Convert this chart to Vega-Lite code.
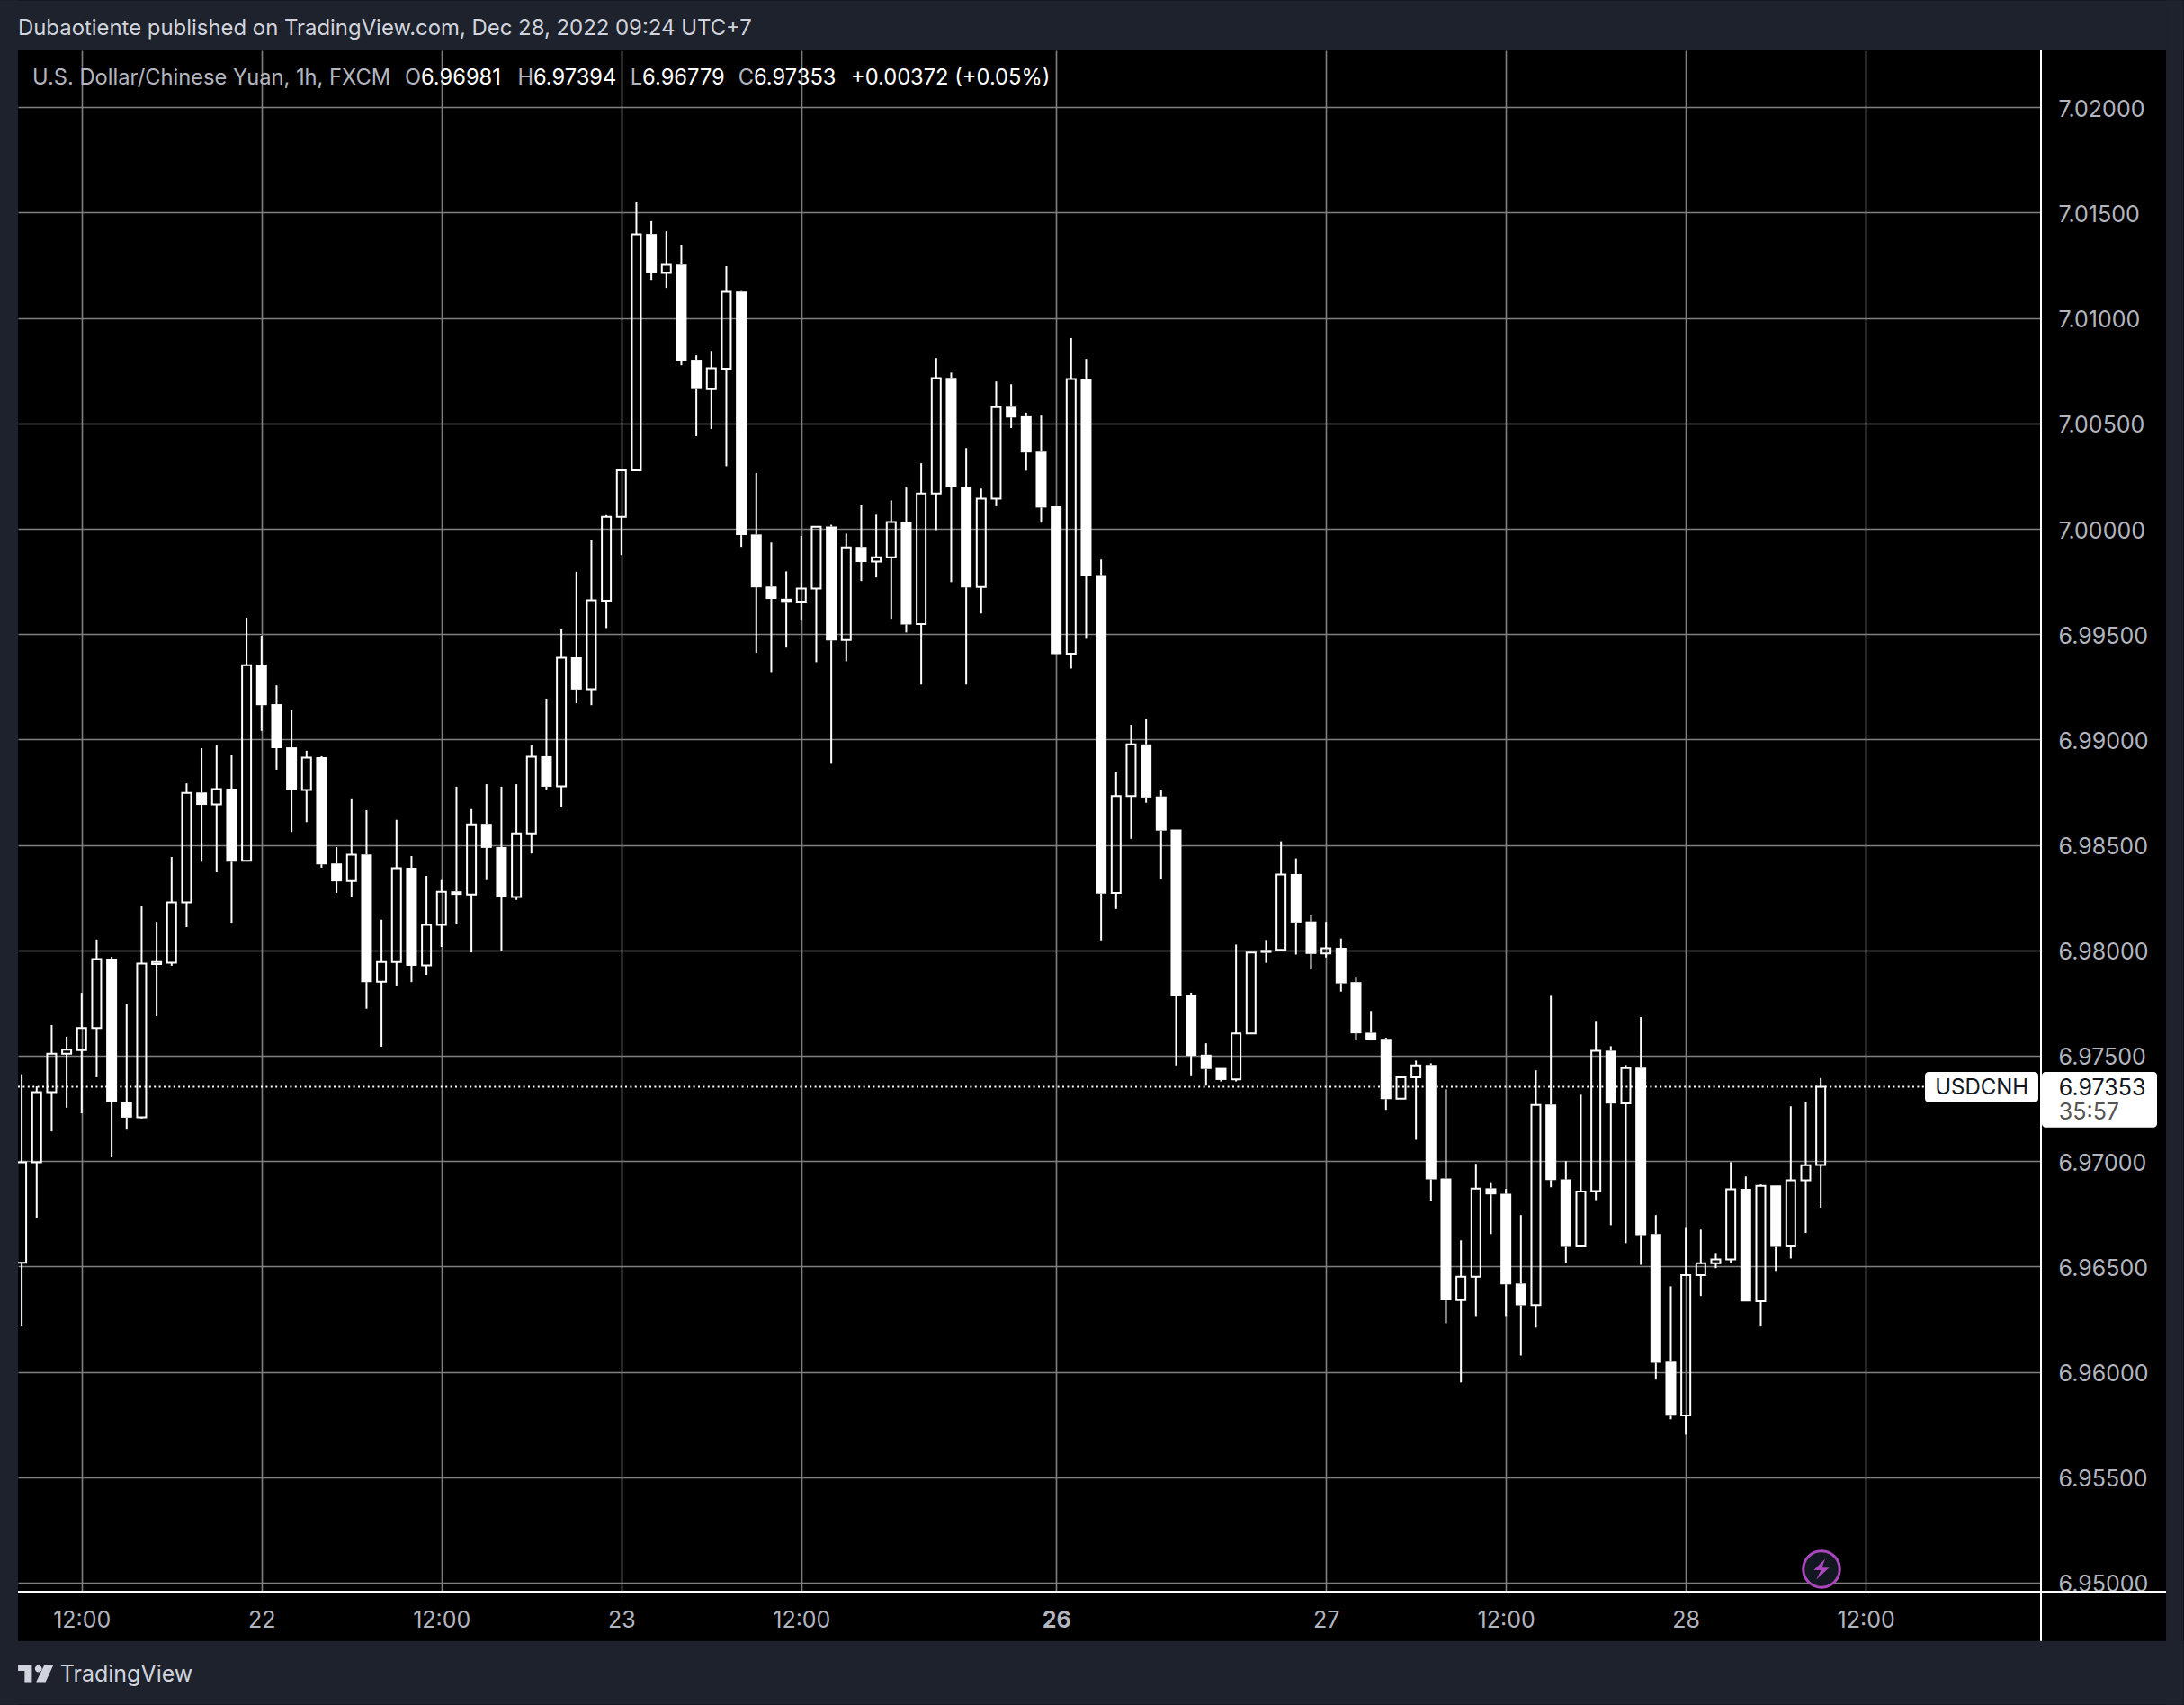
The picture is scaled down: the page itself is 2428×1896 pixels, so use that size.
{"$schema":"https://vega.github.io/schema/vega-lite/v6.json","width":2249,"height":1714,"autosize":{"type":"none"},"padding":{"left":20,"top":56,"right":159,"bottom":126},"background":"#000000","config":{"view":{"stroke":null},"font":"Inter"},
"title":{"text":"Dubaotiente published on TradingView.com, Dec 28, 2022 09:24 UTC+7","anchor":"start","frame":"group","color":"#d1d4dc","font":"Inter","fontSize":23.9,"fontWeight":"normal","baseline":"middle","offset":-56},
"datasets":{
"candles":[
{"bar":0,"open":6.96517,"high":6.97412,"low":6.9622,"close":6.96994},
{"bar":1,"open":6.96994,"high":6.97355,"low":6.96728,"close":6.97327},
{"bar":2,"open":6.97327,"high":6.97645,"low":6.97141,"close":6.9751},
{"bar":3,"open":6.9751,"high":6.9759,"low":6.97253,"close":6.97529},
{"bar":4,"open":6.97527,"high":6.97798,"low":6.97227,"close":6.97631},
{"bar":5,"open":6.97631,"high":6.98051,"low":6.97398,"close":6.97959},
{"bar":6,"open":6.97961,"high":6.97969,"low":6.97018,"close":6.97278},
{"bar":7,"open":6.97282,"high":6.97747,"low":6.97149,"close":6.97206},
{"bar":8,"open":6.97208,"high":6.98208,"low":6.97202,"close":6.97937},
{"bar":9,"open":6.97935,"high":6.98135,"low":6.97688,"close":6.97945},
{"bar":10,"open":6.97941,"high":6.98443,"low":6.97927,"close":6.98227},
{"bar":11,"open":6.98227,"high":6.98792,"low":6.9811,"close":6.98747},
{"bar":12,"open":6.98749,"high":6.98959,"low":6.9842,"close":6.9869},
{"bar":13,"open":6.98692,"high":6.98972,"low":6.9837,"close":6.98765},
{"bar":14,"open":6.98767,"high":6.98925,"low":6.98131,"close":6.9842},
{"bar":15,"open":6.98425,"high":6.99578,"low":6.98425,"close":6.99353},
{"bar":16,"open":6.99355,"high":6.99492,"low":6.99041,"close":6.99163},
{"bar":17,"open":6.99168,"high":6.99257,"low":6.98857,"close":6.98959},
{"bar":18,"open":6.98963,"high":6.99139,"low":6.98561,"close":6.98759},
{"bar":19,"open":6.98761,"high":6.98947,"low":6.98608,"close":6.98914},
{"bar":20,"open":6.98916,"high":6.98921,"low":6.98392,"close":6.98408},
{"bar":21,"open":6.98412,"high":6.9849,"low":6.98272,"close":6.98327},
{"bar":22,"open":6.98329,"high":6.98721,"low":6.98255,"close":6.98453},
{"bar":23,"open":6.98455,"high":6.98665,"low":6.97723,"close":6.97849},
{"bar":24,"open":6.97851,"high":6.98145,"low":6.97543,"close":6.97945},
{"bar":25,"open":6.97945,"high":6.98619,"low":6.97833,"close":6.9839},
{"bar":26,"open":6.98392,"high":6.98447,"low":6.97849,"close":6.97927},
{"bar":27,"open":6.97929,"high":6.98353,"low":6.97884,"close":6.98121},
{"bar":28,"open":6.98121,"high":6.98333,"low":6.98016,"close":6.98278},
{"bar":29,"open":6.9828,"high":6.98776,"low":6.98127,"close":6.98263},
{"bar":30,"open":6.98265,"high":6.9867,"low":6.9799,"close":6.98598},
{"bar":31,"open":6.986,"high":6.98788,"low":6.98333,"close":6.98486},
{"bar":32,"open":6.9849,"high":6.98776,"low":6.97998,"close":6.98251},
{"bar":33,"open":6.98253,"high":6.98788,"low":6.98239,"close":6.98555},
{"bar":34,"open":6.98555,"high":6.98972,"low":6.98459,"close":6.98919},
{"bar":35,"open":6.98921,"high":6.99194,"low":6.98763,"close":6.98776},
{"bar":36,"open":6.98778,"high":6.99523,"low":6.98682,"close":6.99388},
{"bar":37,"open":6.9939,"high":6.99796,"low":6.99172,"close":6.99237},
{"bar":38,"open":6.99239,"high":6.99945,"low":6.99163,"close":6.99661},
{"bar":39,"open":6.99659,"high":7.00065,"low":6.99529,"close":7.00057},
{"bar":40,"open":7.00057,"high":7.00284,"low":6.99876,"close":7.00278},
{"bar":41,"open":7.00278,"high":7.01549,"low":7.00278,"close":7.01397},
{"bar":42,"open":7.01399,"high":7.0146,"low":7.01181,"close":7.01212},
{"bar":43,"open":7.01214,"high":7.01412,"low":7.01143,"close":7.01252},
{"bar":44,"open":7.01254,"high":7.01347,"low":7.00776,"close":7.00798},
{"bar":45,"open":7.00802,"high":7.00823,"low":7.0044,"close":7.00663},
{"bar":46,"open":7.00663,"high":7.00844,"low":7.00474,"close":7.00762},
{"bar":47,"open":7.0076,"high":7.01246,"low":7.00297,"close":7.01124},
{"bar":48,"open":7.01126,"high":7.01128,"low":6.99914,"close":6.9997},
{"bar":49,"open":6.99973,"high":7.00265,"low":6.99411,"close":6.99722},
{"bar":50,"open":6.99726,"high":6.99935,"low":6.9932,"close":6.99667},
{"bar":51,"open":6.99668,"high":6.99798,"low":6.99436,"close":6.99653},
{"bar":52,"open":6.99655,"high":6.99966,"low":6.99564,"close":6.99716},
{"bar":53,"open":6.99716,"high":7.0001,"low":6.99367,"close":7.0001},
{"bar":54,"open":7.00011,"high":7.00019,"low":6.98885,"close":6.9947},
{"bar":55,"open":6.99472,"high":6.99977,"low":6.99371,"close":6.99912},
{"bar":56,"open":6.99914,"high":7.00111,"low":6.99752,"close":6.99842},
{"bar":57,"open":6.99844,"high":7.00067,"low":6.99769,"close":6.99865},
{"bar":58,"open":6.99865,"high":7.00135,"low":6.99573,"close":7.00032},
{"bar":59,"open":7.00034,"high":7.00196,"low":6.99508,"close":6.99546},
{"bar":60,"open":6.99548,"high":7.00311,"low":6.99261,"close":7.00168},
{"bar":61,"open":7.00168,"high":7.0081,"low":6.99994,"close":7.00715},
{"bar":62,"open":7.00716,"high":7.00741,"low":6.99747,"close":7.00196},
{"bar":63,"open":7.002,"high":7.00383,"low":6.99261,"close":6.99722},
{"bar":64,"open":6.99724,"high":7.00191,"low":6.99598,"close":7.00143},
{"bar":65,"open":7.00143,"high":7.00699,"low":7.00107,"close":7.00577},
{"bar":66,"open":7.00579,"high":7.00686,"low":7.00478,"close":7.00528},
{"bar":67,"open":7.00534,"high":7.00551,"low":7.00276,"close":7.00362},
{"bar":68,"open":7.00366,"high":7.00537,"low":7.00029,"close":7.00101},
{"bar":69,"open":7.00107,"high":7.00107,"low":6.99405,"close":6.99405},
{"bar":70,"open":6.99407,"high":7.00905,"low":6.99337,"close":7.00711},
{"bar":71,"open":7.00713,"high":7.00806,"low":6.99478,"close":6.99777},
{"bar":72,"open":6.9978,"high":6.99854,"low":6.98047,"close":6.98269},
{"bar":73,"open":6.98272,"high":6.98845,"low":6.98196,"close":6.98732},
{"bar":74,"open":6.98732,"high":6.9907,"low":6.98529,"close":6.98977},
{"bar":75,"open":6.98977,"high":6.99097,"low":6.987,"close":6.98725},
{"bar":76,"open":6.9873,"high":6.98759,"low":6.98338,"close":6.98568},
{"bar":77,"open":6.98573,"high":6.98573,"low":6.97454,"close":6.97782},
{"bar":78,"open":6.97787,"high":6.97799,"low":6.97407,"close":6.975},
{"bar":79,"open":6.97505,"high":6.97559,"low":6.97358,"close":6.97437},
{"bar":80,"open":6.97442,"high":6.97442,"low":6.97378,"close":6.97385},
{"bar":81,"open":6.97388,"high":6.98027,"low":6.97378,"close":6.97606},
{"bar":82,"open":6.97606,"high":6.9799,"low":6.97606,"close":6.9799},
{"bar":83,"open":6.98002,"high":6.98049,"low":6.97941,"close":6.97988},
{"bar":84,"open":6.98002,"high":6.98517,"low":6.98002,"close":6.9836},
{"bar":85,"open":6.98362,"high":6.98436,"low":6.9798,"close":6.98132},
{"bar":86,"open":6.98137,"high":6.98167,"low":6.97914,"close":6.97983},
{"bar":87,"open":6.97985,"high":6.98135,"low":6.97966,"close":6.9801},
{"bar":88,"open":6.98012,"high":6.98056,"low":6.97804,"close":6.97843},
{"bar":89,"open":6.97849,"high":6.9787,"low":6.97572,"close":6.97606},
{"bar":90,"open":6.97609,"high":6.97712,"low":6.97572,"close":6.97575},
{"bar":91,"open":6.9758,"high":6.97585,"low":6.97243,"close":6.97294},
{"bar":92,"open":6.97296,"high":6.97398,"low":6.97296,"close":6.97398},
{"bar":93,"open":6.97398,"high":6.97477,"low":6.97101,"close":6.97454},
{"bar":94,"open":6.97456,"high":6.97464,"low":6.96812,"close":6.96913},
{"bar":95,"open":6.96918,"high":6.97341,"low":6.96231,"close":6.96339},
{"bar":96,"open":6.9634,"high":6.96624,"low":6.9595,"close":6.96451},
{"bar":97,"open":6.96451,"high":6.96987,"low":6.96265,"close":6.96869},
{"bar":98,"open":6.96871,"high":6.969,"low":6.96654,"close":6.96842},
{"bar":99,"open":6.96845,"high":6.96868,"low":6.96265,"close":6.96415},
{"bar":100,"open":6.96419,"high":6.96744,"low":6.96077,"close":6.96316},
{"bar":101,"open":6.96317,"high":6.97431,"low":6.9621,"close":6.97266},
{"bar":102,"open":6.97268,"high":6.97784,"low":6.96876,"close":6.9691},
{"bar":103,"open":6.96913,"high":6.97,"low":6.96517,"close":6.96593},
{"bar":104,"open":6.96595,"high":6.97315,"low":6.96595,"close":6.96856},
{"bar":105,"open":6.96858,"high":6.97665,"low":6.96815,"close":6.97523},
{"bar":106,"open":6.97524,"high":6.97545,"low":6.96696,"close":6.97273},
{"bar":107,"open":6.97274,"high":6.97456,"low":6.96611,"close":6.97441},
{"bar":108,"open":6.97443,"high":6.97683,"low":6.96508,"close":6.96649},
{"bar":109,"open":6.96654,"high":6.96744,"low":6.95963,"close":6.96043},
{"bar":110,"open":6.96048,"high":6.96406,"low":6.95775,"close":6.95792},
{"bar":111,"open":6.95793,"high":6.96683,"low":6.95702,"close":6.96459},
{"bar":112,"open":6.96459,"high":6.96675,"low":6.9636,"close":6.96515},
{"bar":113,"open":6.96515,"high":6.96564,"low":6.96492,"close":6.96533},
{"bar":114,"open":6.96533,"high":6.96995,"low":6.96517,"close":6.96866},
{"bar":115,"open":6.96868,"high":6.96927,"low":6.96334,"close":6.96334},
{"bar":116,"open":6.96335,"high":6.96889,"low":6.96215,"close":6.96882},
{"bar":117,"open":6.96884,"high":6.96884,"low":6.96479,"close":6.96593},
{"bar":118,"open":6.96595,"high":6.9726,"low":6.96538,"close":6.96909},
{"bar":119,"open":6.96909,"high":6.97281,"low":6.96659,"close":6.9698},
{"bar":120,"open":6.96981,"high":6.97394,"low":6.96779,"close":6.97353}
],
"chrome":[
{"b1":-1.446,"b2":144.2,"p1":7.0227,"p2":7.02508},
{"b1":-1.446,"b2":-0.246,"p1":6.9442,"p2":7.02508},
{"b1":143.03,"b2":144.2,"p1":6.9442,"p2":7.02508},
{"b1":-1.446,"b2":144.2,"p1":6.9442,"p2":6.94723}
],
"boxes":[
{"b1":126.95,"b2":134.51,"p1":6.97279,"p2":6.97423},
{"b1":134.75,"b2":142.43,"p1":6.9716,"p2":6.97423}
],
"last":[{"b1":-0.246,"b2":126.95,"price":6.97353}],
"vframe":[{"b":134.69,"p1":7.0227,"p2":6.94723}],
"hframe":[{"b1":-0.246,"b2":143.03,"p":6.94957}],
"texts":[
{"t":"U.S. Dollar/Chinese Yuan, 1h, FXCM","b":0.72,"p":7.02138,"c":"g"},
{"t":"O","b":25.55,"p":7.02138,"c":"g"},
{"t":"6.96981","b":26.63,"p":7.02138,"c":"w"},
{"t":"H","b":33.08,"p":7.02138,"c":"g"},
{"t":"6.97394","b":34.13,"p":7.02138,"c":"w"},
{"t":"L","b":40.6,"p":7.02138,"c":"g"},
{"t":"6.96779","b":41.4,"p":7.02138,"c":"w"},
{"t":"C","b":47.8,"p":7.02138,"c":"g"},
{"t":"6.97353","b":48.83,"p":7.02138,"c":"w"},
{"t":"+0.00372 (+0.05%)","b":55.31,"p":7.02138,"c":"w"}
],
"boxtexts":[
{"t":"6.97353","b":135.88,"p":6.97347,"c":"k"},
{"t":"35:57","b":135.88,"p":6.97232,"c":"d"},
{"t":"TradingView","b":2.56,"p":6.94565,"c":"l"}
],
"ticker":[{"t":"USDCNH","b":130.74,"p":6.97347}],
"signal":[{"b":120.05,"p":6.95064}],
"logo":[{"b":0.94,"p":6.94569}]
},
"layer":[
{"data":{"name":"last"},"mark":{"type":"rule","color":"#ffffff","strokeWidth":2,"strokeDash":[2,3.4]},
"encoding":{"x":{"field":"b1","type":"quantitative","scale":{"domain":[-0.246,134.69],"nice":false,"zero":false,"padding":0},"title":null,
"axis":{"values":[4,16,28,40,52,69,87,99,111,123],"domain":false,"ticks":false,"grid":true,"gridColor":"#808080","gridWidth":1.6,"labelColor":"#b2b5be","labelFontSize":25,"labelFont":"Inter","labelPadding":19,"labelBaseline":"top","labelOverlap":false,"labelBound":false,"labelFlush":false,"labelFontWeight":{"condition":{"test":"datum.value===69","value":"bold"},"value":"normal"},"labelExpr":"{'4':'12:00','16':'22','28':'12:00','40':'23','52':'12:00','69':'26','87':'27','99':'12:00','111':'28','123':'12:00'}[datum.value]"}},
"x2":{"field":"b2"},
"y":{"field":"price","type":"quantitative","scale":{"domain":[6.94957,7.0227],"nice":false,"zero":false,"padding":0},"title":null,
"axis":{"orient":"right","values":[6.95,6.955,6.96,6.965,6.97,6.975,6.98,6.985,6.99,6.995,7,7.005,7.01,7.015,7.02],"format":".5f","domain":false,"ticks":false,"grid":true,"gridColor":"#808080","gridWidth":1.6,"labelColor":"#b2b5be","labelFontSize":25,"labelFont":"Inter","labelPadding":19,"labelOffset":2,"labelAlign":"left","labelOverlap":false,"labelBound":false,"labelFlush":false}}}},
{"data":{"name":"candles"},"transform":[{"filter":"datum.close>=datum.open"}],"mark":{"type":"rule","color":"#ffffff","strokeWidth":2},"encoding":{"x":{"field":"bar","type":"quantitative"},"y":{"field":"high","type":"quantitative"},"y2":{"field":"close"}}},
{"data":{"name":"candles"},"transform":[{"filter":"datum.close>=datum.open"}],"mark":{"type":"rule","color":"#ffffff","strokeWidth":2},"encoding":{"x":{"field":"bar","type":"quantitative"},"y":{"field":"open","type":"quantitative"},"y2":{"field":"low"}}},
{"data":{"name":"candles"},"transform":[{"filter":"datum.close<datum.open"}],"mark":{"type":"rule","color":"#ffffff","strokeWidth":2},"encoding":{"x":{"field":"bar","type":"quantitative"},"y":{"field":"high","type":"quantitative"},"y2":{"field":"open"}}},
{"data":{"name":"candles"},"transform":[{"filter":"datum.close<datum.open"}],"mark":{"type":"rule","color":"#ffffff","strokeWidth":2},"encoding":{"x":{"field":"bar","type":"quantitative"},"y":{"field":"close","type":"quantitative"},"y2":{"field":"low"}}},
{"data":{"name":"candles"},"transform":[{"filter":"datum.close>=datum.open"}],"mark":{"type":"bar","size":10,"fill":"transparent","stroke":"#ffffff","strokeWidth":2,"orient":"vertical"},"encoding":{"x":{"field":"bar","type":"quantitative"},"y":{"field":"open","type":"quantitative"},"y2":{"field":"close"}}},
{"data":{"name":"candles"},"transform":[{"filter":"datum.close<datum.open"}],"mark":{"type":"bar","size":12,"fill":"#ffffff","orient":"vertical"},"encoding":{"x":{"field":"bar","type":"quantitative"},"y":{"field":"open","type":"quantitative"},"y2":{"field":"close"}}},
{"data":{"name":"chrome"},"mark":{"type":"rect","fill":"#1e222d","clip":false},"encoding":{"x":{"field":"b1","type":"quantitative"},"x2":{"field":"b2"},"y":{"field":"p1","type":"quantitative"},"y2":{"field":"p2"}}},
{"data":{"name":"vframe"},"mark":{"type":"rule","color":"#ffffff","strokeWidth":2},"encoding":{"x":{"field":"b","type":"quantitative"},"y":{"field":"p1","type":"quantitative"},"y2":{"field":"p2"}}},
{"data":{"name":"hframe"},"mark":{"type":"rule","color":"#ffffff","strokeWidth":2},"encoding":{"x":{"field":"b1","type":"quantitative"},"x2":{"field":"b2"},"y":{"field":"p","type":"quantitative"}}},
{"data":{"name":"boxes"},"mark":{"type":"rect","fill":"#ffffff","cornerRadius":4},"encoding":{"x":{"field":"b1","type":"quantitative"},"x2":{"field":"b2"},"y":{"field":"p1","type":"quantitative"},"y2":{"field":"p2"}}},
{"data":{"name":"texts"},"mark":{"type":"text","align":"left","baseline":"middle","font":"Inter","fontSize":23.7},"encoding":{"x":{"field":"b","type":"quantitative"},"y":{"field":"p","type":"quantitative"},"text":{"field":"t"},"color":{"field":"c","type":"nominal","legend":null,"scale":{"domain":["g","w","k","d","l"],"range":["#b2b5be","#ffffff","#131722","#555555","#d1d4dc"]}}}},
{"data":{"name":"boxtexts"},"mark":{"type":"text","align":"left","baseline":"middle","font":"Inter","fontSize":25},"encoding":{"x":{"field":"b","type":"quantitative"},"y":{"field":"p","type":"quantitative"},"text":{"field":"t"},"color":{"field":"c","type":"nominal","legend":null}}},
{"data":{"name":"ticker"},"mark":{"type":"text","align":"center","baseline":"middle","font":"Inter","fontSize":24,"color":"#131722"},"encoding":{"x":{"field":"b","type":"quantitative"},"y":{"field":"p","type":"quantitative"},"text":{"field":"t"}}},
{"data":{"name":"signal"},"mark":{"type":"point","shape":"circle","size":1640,"filled":true,"fill":"#131722","stroke":"#ab47bc","strokeWidth":3,"opacity":1},"encoding":{"x":{"field":"b","type":"quantitative"},"y":{"field":"p","type":"quantitative"}}},
{"data":{"name":"signal"},"mark":{"type":"point","shape":"M0.35 -1 L-0.75 0.1 L-0.05 0.1 L-0.5 1 L0.75 -0.15 L0.05 -0.15 Z","size":530,"filled":true,"fill":"#ab47bc","opacity":1},"encoding":{"x":{"field":"b","type":"quantitative"},"y":{"field":"p","type":"quantitative"}}},
{"data":{"name":"logo"},"mark":{"type":"point","shape":"M-1 -0.49 L-0.22 -0.49 L-0.22 0.49 L-0.63 0.49 L-0.63 -0.15 L-1 -0.15 Z M-0.05 -0.27 A0.2 0.2 0 1 0 0.35 -0.27 A0.2 0.2 0 1 0 -0.05 -0.27 Z M0.49 -0.49 L1 -0.49 L0.55 0.49 L0.02 0.49 Z","size":1552,"filled":true,"fill":"#d1d4dc","opacity":1},"encoding":{"x":{"field":"b","type":"quantitative"},"y":{"field":"p","type":"quantitative"}}}
],
"resolve":{"scale":{"color":"shared"}}}
